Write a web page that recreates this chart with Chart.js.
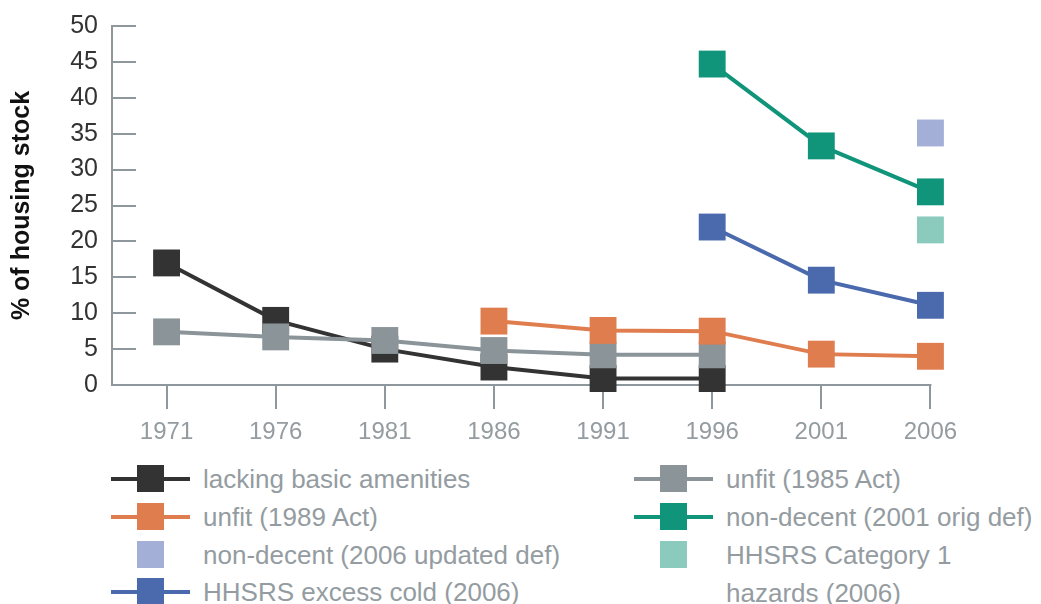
<!DOCTYPE html>
<html lang="en">
<head>
    <meta charset="UTF-8">
    <title>% of housing stock</title>
    <script src="https://cdn.jsdelivr.net/npm/chart.js"></script>
    <style>
        body { margin: 0; background: #fff; font-family: "Liberation Sans", Arial, sans-serif; }
        .wrap { position: relative; width: 1041px; height: 604px; }
        .chart-box { position: absolute; left: 0; top: 0; width: 1041px; height: 460px; }
        .item { position: absolute; height: 38px; }
        .item .ln { position: absolute; left: 0; top: 17px; width: 79px; height: 4px; }
        .item .sq { position: absolute; left: 26px; top: 5px; width: 27px; height: 27px; }
        .item .tx { position: absolute; left: 92px; top: 0; white-space: nowrap;
                    font-size: 26px; line-height: 38px; color: #949ca1; }
    </style>
</head>
<body>
<div class="wrap">
    <div class="chart-box"><canvas id="housingChart"></canvas></div>
    <div id="legend"></div>
</div>

<script>
    // data
    const years = ['1971', '1976', '1981', '1986', '1991', '1996', '2001', '2006'];
    const lackingAmenities = [17.0, 9.0, 5.0, 2.5, 0.9, 0.9, null, null];
    const unfit1985 = [7.4, 6.7, 6.2, 4.8, 4.2, 4.2, null, null];
    const unfit1989 = [null, null, null, 8.9, 7.6, 7.5, 4.3, 4.0];
    const nonDecent2001 = [null, null, null, null, null, 44.7, 33.3, 26.9];
    const nonDecent2006 = [null, null, null, null, null, null, null, 35.1];
    const hhsrsCat1 = [null, null, null, null, null, null, null, 21.6];
    const hhsrsCold = [null, null, null, null, null, 22.0, 14.6, 11.1];

    const seriesNames = [
        'lacking basic amenities', 'unfit (1985 Act)', 'unfit (1989 Act)',
        'non-decent (2001 orig def)', 'non-decent (2006 updated def)',
        'HHSRS Category 1<br>hazards (2006)', 'HHSRS excess cold (2006)'
    ];
    const seriesData = [lackingAmenities, unfit1985, unfit1989, nonDecent2001,
                        nonDecent2006, hhsrsCat1, hhsrsCold];
    const seriesColors = ['#333333', '#8a9499', '#e07d4f', '#10957b',
                          '#a3afd6', '#8acbbd', '#4a6aad'];
    const seriesLines = [true, true, true, true, false, false, true];

    // legend placement: [left, row centre]
    const legendSpots = [[111, 479], [634, 479], [111, 517], [634, 517],
                         [111, 555], [634, 555], [111, 592]];

    const yMin = 0, yMax = 50, yStep = 5;
    const axisColor = '#8d979c';
    const fontFamily = '"Liberation Sans", Arial, sans-serif';

    const datasets = seriesData.map((d, i) => ({
        label: seriesNames[i],
        data: d,
        borderColor: seriesColors[i],
        backgroundColor: seriesColors[i],
        borderWidth: 4,
        showLine: seriesLines[i],
        spanGaps: false,
        pointStyle: 'rect',
        pointRadius: 19,
        pointHoverRadius: 19,
        pointBorderWidth: 0,
        pointBackgroundColor: seriesColors[i],
        clip: false,
        order: seriesData.length - i
    }));

    // x axis line only runs out to the last category
    const xAxisLine = {
        id: 'xAxisLine',
        beforeDatasetsDraw(chart) {
            const { ctx, chartArea, scales } = chart;
            const py = Math.round(scales.y.getPixelForValue(0));
            const end = scales.x.getPixelForValue(years.length - 1);
            ctx.save();
            ctx.strokeStyle = axisColor;
            ctx.lineWidth = 2;
            ctx.beginPath();
            ctx.moveTo(chartArea.left, py);
            ctx.lineTo(end + 1, py);
            ctx.stroke();
            ctx.restore();
        }
    };

    new Chart(document.getElementById('housingChart'), {
        type: 'line',
        data: { labels: years, datasets: datasets },
        plugins: [xAxisLine],
        options: {
            responsive: true,
            maintainAspectRatio: false,
            animation: false,
            layout: { padding: { top: 0, right: 56, left: 0, bottom: 0 } },
            plugins: { legend: { display: false }, tooltip: { enabled: false } },
            scales: {
                x: {
                    offset: true,
                    border: { display: false },
                    grid: { drawOnChartArea: false, drawTicks: true, tickLength: 24,
                            color: axisColor, lineWidth: 2 },
                    ticks: { color: '#949ca1', padding: 9, maxRotation: 0, autoSkip: false,
                             font: { family: fontFamily, size: 24 } },
                    afterFit(scale) { scale.height = 75; }
                },
                y: {
                    min: yMin,
                    max: yMax,
                    border: { display: true, color: axisColor, width: 2 },
                    // negative tick length turns the tick marks inward
                    grid: { drawOnChartArea: false, drawTicks: true, tickLength: -24,
                            color: axisColor, lineWidth: 2 },
                    ticks: { stepSize: yStep, color: '#333333', padding: 38,
                             font: { family: fontFamily, size: 25 } },
                    title: { display: true, text: '% of housing stock', color: '#111111',
                             padding: { top: 7, bottom: 0 },
                             font: { family: fontFamily, size: 25, weight: 'bold' } },
                    afterFit(scale) {
                        scale.width = 112;
                        scale.paddingTop = 26;
                        scale.paddingBottom = 0;
                    }
                }
            }
        }
    });

    // legend in two columns
    const legend = document.getElementById('legend');
    seriesNames.forEach((name, i) => {
        const item = document.createElement('div');
        item.className = 'item';
        item.style.left = legendSpots[i][0] + 'px';
        item.style.top = (legendSpots[i][1] - 19) + 'px';
        let html = '';
        if (seriesLines[i]) html += '<span class="ln" style="background:' + seriesColors[i] + '"></span>';
        html += '<span class="sq" style="background:' + seriesColors[i] + '"></span>';
        html += '<span class="tx">' + name + '</span>';
        item.innerHTML = html;
        legend.appendChild(item);
    });
</script>
</body>
</html>
